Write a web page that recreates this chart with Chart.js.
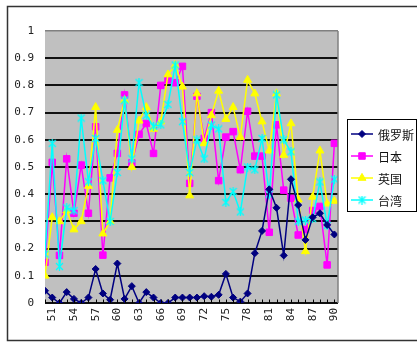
<!DOCTYPE html>
<html>
<head>
<meta charset="utf-8">
<script src="https://cdn.jsdelivr.net/npm/chart.js@4/dist/chart.umd.min.js"></script>
<style>
  html, body { margin: 0; padding: 0; background: #fff; }
  #wrap { width: 417px; height: 342px; position: relative; }
</style>
</head>
<body>
<div id="wrap"><canvas id="c" width="417" height="342"></canvas></div>
<script>
// Years 1950–1990 (two-digit labels)
const years = [50,51,52,53,54,55,56,57,58,59,60,61,62,63,64,65,66,67,68,69,70,
               71,72,73,74,75,76,77,78,79,80,81,82,83,84,85,86,87,88,89,90];
const xTickLabels = [51,54,57,60,63,66,69,72,75,78,81,84,87,90];

const seriesNames = ['俄罗斯', '日本', '英国', '台湾'];

const russia = [0.045,0.02,0.0,0.04,0.015,0.0,0.02,0.125,0.035,0.012,0.145,
                0.015,0.062,0.0,0.04,0.02,0.0,0.0,0.02,0.02,0.02,
                0.02,0.025,0.023,0.03,0.107,0.02,0.005,0.035,0.183,0.265,
                0.418,0.35,0.175,0.455,0.36,0.232,0.315,0.33,0.287,0.252];
const japan  = [0.15,0.517,0.175,0.53,0.33,0.507,0.33,0.648,0.176,0.46,0.55,
                0.765,0.515,0.62,0.66,0.55,0.80,0.82,0.81,0.87,0.44,
                0.76,0.605,0.70,0.45,0.61,0.63,0.49,0.705,0.54,0.54,
                0.26,0.655,0.415,0.385,0.25,0.27,0.34,0.355,0.14,0.587];
const uk     = [0.10,0.315,0.30,0.34,0.27,0.30,0.43,0.72,0.255,0.30,0.636,
                0.746,0.50,0.67,0.72,0.64,0.667,0.84,0.875,0.795,0.395,
                0.77,0.587,0.69,0.78,0.676,0.72,0.61,0.82,0.77,0.667,
                0.56,0.77,0.544,0.66,0.38,0.19,0.39,0.56,0.365,0.375];
const taiwan = [0.18,0.587,0.134,0.35,0.34,0.68,0.446,0.605,0.45,0.30,0.48,
                0.746,0.53,0.81,0.69,0.65,0.655,0.73,0.875,0.667,0.48,
                0.60,0.53,0.654,0.64,0.37,0.41,0.335,0.50,0.49,0.605,
                0.40,0.765,0.60,0.556,0.30,0.305,0.31,0.445,0.285,0.455];

// asterisk-like marker: an "x" with a vertical stroke
function starMarker(color) {
  const c = document.createElement('canvas');
  c.width = 9; c.height = 9;
  const g = c.getContext('2d');
  g.strokeStyle = color; g.lineWidth = 1.3;
  g.beginPath();
  g.moveTo(1, 1); g.lineTo(8, 8);
  g.moveTo(8, 1); g.lineTo(1, 8);
  g.moveTo(4.5, 0); g.lineTo(4.5, 9);
  g.stroke();
  return c;
}
const cyanStar = starMarker('#00ffff');

function pts(vals) { return years.map((yr, i) => ({ x: yr, y: vals[i] })); }

const styles = [
  { color: '#000080', pointStyle: 'rectRot', radius: 3.5 },
  { color: '#ff00ff', pointStyle: 'rect', radius: 4.6 },
  { color: '#ffff00', pointStyle: 'triangle', radius: 4.6 },
  { color: '#00ffff', pointStyle: cyanStar, radius: 4.5 }
];
const allSeries = [russia, japan, uk, taiwan];

// Russia is drawn on top of the other three series
const datasets = allSeries.map((vals, k) => ({
  label: seriesNames[k],
  data: pts(vals),
  borderColor: styles[k].color,
  backgroundColor: styles[k].color,
  pointStyle: styles[k].pointStyle,
  pointRadius: styles[k].radius,
  pointHoverRadius: styles[k].radius,
  pointBorderWidth: 1,
  borderWidth: 1.5,
  tension: 0,
  order: k === 0 ? 0 : 4 - k
}));

const plotDeco = {
  id: 'plotDeco',
  beforeDraw(chart) {
    const { ctx, chartArea: a } = chart;
    ctx.save();
    ctx.fillStyle = '#c0c0c0';
    ctx.fillRect(a.left, a.top, a.right - a.left, a.bottom - a.top);
    // outer chart frame
    ctx.strokeStyle = '#333';
    ctx.lineWidth = 1.5;
    ctx.strokeRect(7.5, 6.5, 430, 334);
    ctx.restore();
  },
  afterDatasetsDraw(chart) {
    const { ctx, chartArea: a, scales: { x } } = chart;
    ctx.save();
    // right border of plot
    ctx.strokeStyle = '#808080';
    ctx.lineWidth = 1.5;
    ctx.beginPath();
    ctx.moveTo(a.right, a.top); ctx.lineTo(a.right, a.bottom);
    ctx.stroke();
    // inner tick marks for each year
    ctx.strokeStyle = '#000';
    ctx.lineWidth = 1;
    ctx.beginPath();
    years.forEach(yr => {
      const px = Math.round(x.getPixelForValue(yr)) + 0.5;
      ctx.moveTo(px, a.bottom); ctx.lineTo(px, a.bottom - 3.5);
    });
    ctx.stroke();
    ctx.restore();
  },
  afterDraw(chart) {
    const { ctx } = chart;
    ctx.save();
    // legend box
    const bx = 347.5, by = 119.5, bw = 69, bh = 92;
    ctx.fillStyle = '#fff';
    ctx.fillRect(bx, by, bw, bh);
    ctx.strokeStyle = '#000';
    ctx.lineWidth = 1;
    ctx.strokeRect(bx, by, bw, bh);
    chart.data.datasets.forEach((ds, k) => {
      const cy = 134 + k * 22;
      ctx.strokeStyle = ds.borderColor;
      ctx.fillStyle = ds.borderColor;
      ctx.lineWidth = 1.5;
      ctx.beginPath();
      ctx.moveTo(351, cy); ctx.lineTo(373, cy);
      ctx.stroke();
      ctx.lineWidth = 1;
      Chart.helpers.drawPoint(ctx, {
        pointStyle: ds.pointStyle, radius: ds.pointRadius, borderWidth: 1, rotation: 0
      }, 362, cy);
      ctx.fillStyle = '#111';
      ctx.font = '12px "Noto Sans CJK SC"';
      ctx.textBaseline = 'middle';
      ctx.textAlign = 'left';
      ctx.fillText(ds.label, 378, cy + 1);
    });
    ctx.restore();
  }
};

new Chart(document.getElementById('c'), {
  type: 'line',
  data: { datasets },
  options: {
    responsive: false,
    animation: false,
    devicePixelRatio: 1,
    layout: { padding: { left: 0, top: 31, right: 79, bottom: 0 } },
    plugins: { legend: { display: false }, tooltip: { enabled: false } },
    scales: {
      x: {
        type: 'linear',
        min: 50,
        max: 90.5,
        afterBuildTicks(scale) { scale.ticks = xTickLabels.map(v => ({ value: v })); },
        afterFit(scale) { scale.height = 39; },
        grid: { display: false, drawTicks: false },
        border: { display: false },
        ticks: {
          autoSkip: false,
          minRotation: 90,
          maxRotation: 90,
          padding: 5,
          color: '#222',
          font: { family: '"DejaVu Sans Mono"', size: 11 },
          callback: v => String(v)
        }
      },
      y: {
        min: 0,
        max: 1,
        afterFit(scale) { scale.width = 45; },
        grid: {
          drawTicks: false,
          color: c => (c.tick && c.tick.value >= 0.999 ? '#808080' : '#111'),
          lineWidth: c => (c.tick && c.tick.value >= 0.999 ? 1.5 : 2)
        },
        border: { display: false },
        ticks: {
          stepSize: 0.1,
          padding: 11,
          color: '#222',
          font: { family: '"DejaVu Sans Mono"', size: 11 },
          callback: v => String(Number(Number(v).toFixed(1)))
        }
      }
    }
  },
  plugins: [plotDeco]
});
</script>
</body>
</html>
